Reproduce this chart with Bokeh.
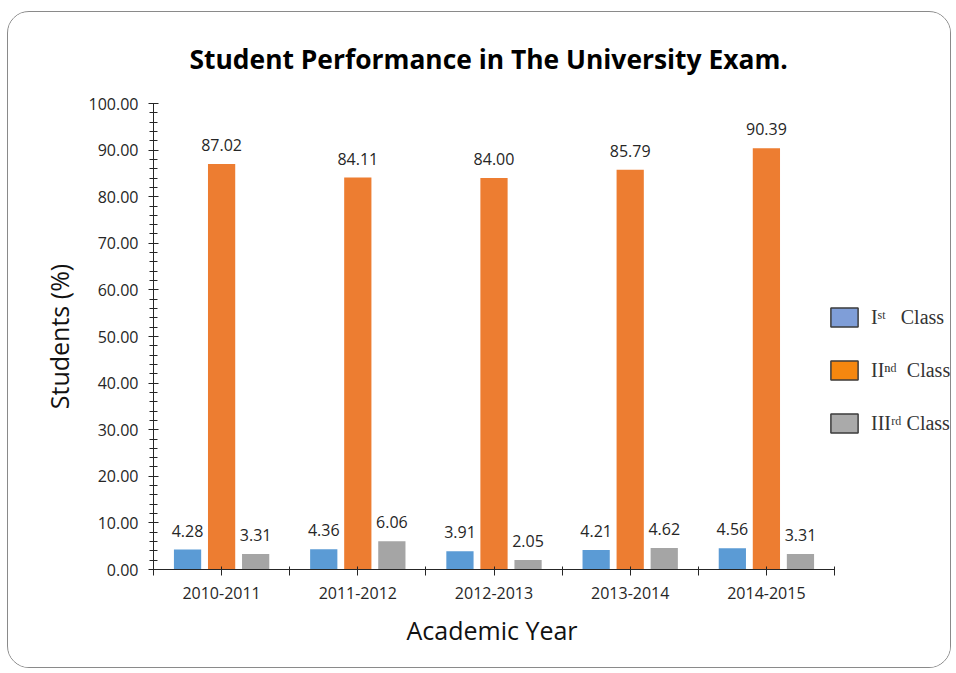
from bokeh.plotting import figure
from bokeh.models import (Range1d, FixedTicker, NumeralTickFormatter, Legend, LegendItem,
                          ColumnDataSource, Title)
from bokeh.transform import dodge
from bokeh.core.properties import value
from bokeh.embed import file_html
from bokeh.resources import INLINE

years = ["2010-2011", "2011-2012", "2012-2013", "2013-2014", "2014-2015"]
first_class = [4.28, 4.36, 3.91, 4.21, 4.56]
second_class = [87.02, 84.11, 84.00, 85.79, 90.39]
third_class = [3.31, 6.06, 2.05, 4.62, 3.31]
NB = "\u00a0"
legend_labels = ["I\u02e2\u1d57" + NB * 3 + "Class",
                 "II\u207f\u1d48" + NB * 2 + "Class",
                 "III\u02b3\u1d48" + NB + "Class"]
y_ticks = list(range(0, 101, 10))
y_minor = list(range(0, 101, 2))

pos = [i + 0.5 for i in range(len(years))]
src = ColumnDataSource(dict(
    x=pos, first=first_class, second=second_class, third=third_class,
    first_t=["%.2f" % v for v in first_class],
    second_t=["%.2f" % v for v in second_class],
    third_t=["%.2f" % v for v in third_class],
))

# layout: frame spans to the right edge so the legend can sit beside the axis
FIG_W, FIG_H = 944, 657
LEFT, TOP, BOTTOM = 145, 91, 100
AXIS_PX = 681                       # pixel length of the category axis
frame_w = FIG_W - LEFT
x_end = len(years) * frame_w / AXIS_PX

p = figure(width=FIG_W, height=FIG_H, output_backend="svg", toolbar_location=None,
           x_range=Range1d(0, x_end), y_range=Range1d(0, 100),
           min_border_left=LEFT, min_border_right=0, min_border_top=TOP,
           min_border_bottom=BOTTOM,
           background_fill_color="white", border_fill_color="white")
p.styles = {"margin-top": "11px", "margin-left": "7px", "border": "1px solid #8a8a8a",
            "border-radius": "22px", "overflow": "hidden"}
p.outline_line_color = None
p.grid.visible = False

p.title.text = "Student Performance in The University Exam."
p.title.text_font = "Open Sans"
p.title.text_font_size = "26.4px"
p.title.text_font_style = "bold"
p.title.text_color = "black"
p.title.align = "left"
p.title.offset = 36
p.title.standoff = 53

colors = ["#5b9bd5", "#ed7d31", "#a5a5a5"]
fields = ["first", "second", "third"]
offsets = [-0.25, 0.0, 0.25]
for f, c, o in zip(fields, colors, offsets):
    p.vbar(x=dodge("x", o), top=f, width=0.2, source=src, fill_color=c, line_color=None)
    p.text(x=dodge("x", o), y=f, text=f + "_t", source=src, text_align="center",
           text_baseline="bottom", y_offset=-13, text_font=value("Open Sans"),
           text_font_size="16px", text_color="#262626")

# axes
xa = p.xaxis[0]
xa.bounds = (0, len(years))
xa.ticker = FixedTicker(ticks=pos, minor_ticks=list(range(len(years) + 1)))
xa.major_label_overrides = {p_: y for p_, y in zip(pos, years)}
xa.major_label_text_font = "Open Sans"
xa.major_label_text_font_size = "16px"
xa.major_label_text_color = "#262626"
xa.major_tick_in = 3
xa.major_tick_out = 6
xa.minor_tick_in = 3
xa.minor_tick_out = 6
xa.axis_line_color = "#262626"
xa.major_tick_line_color = "#262626"
xa.minor_tick_line_color = "#262626"
xa.major_label_standoff = 11

# x axis title, centred under the category axis (not under the wider frame)
x_title = Title(text="Academic Year", align="left", offset=253, standoff=18,
                text_font="Open Sans", text_font_size="25px", text_font_style="normal",
                text_color="#111111")
p.add_layout(x_title, "below")

ya = p.yaxis[0]
ya.ticker = FixedTicker(ticks=y_ticks, minor_ticks=y_minor)
ya.formatter = NumeralTickFormatter(format="0.00")
ya.major_label_text_font = "Open Sans"
ya.major_label_text_font_size = "16px"
ya.major_label_text_color = "#262626"
ya.major_tick_in = 5
ya.major_tick_out = 5
ya.minor_tick_in = 4
ya.minor_tick_out = 4
ya.axis_line_color = "#262626"
ya.major_tick_line_color = "#262626"
ya.minor_tick_line_color = "#262626"
ya.major_label_standoff = 10
ya.axis_label = "Students (%)"
ya.axis_label_text_font = "Open Sans"
ya.axis_label_text_font_size = "25px"
ya.axis_label_text_font_style = "normal"
ya.axis_label_text_color = "#111111"
ya.axis_label_standoff = 10

# legend: swatches styled like the pasted legend of the source figure
leg_colors = ["#7f9ed8", "#f5870f", "#aaaaaa"]
items = []
for lab, c, f, o in zip(legend_labels, leg_colors, fields, offsets):
    r = p.vbar(x=dodge("x", o), top=f, width=0.2, source=src, fill_color=c,
               line_color="#3d3d3d", line_width=1.5, visible=False)
    items.append(LegendItem(label=lab, renderers=[r]))
legend = Legend(items=items, location=(674, 134), orientation="vertical",
                glyph_width=34, glyph_height=24, label_height=24, spacing=29,
                padding=0, margin=0, label_standoff=10,
                label_text_font="Liberation Serif", label_text_font_size="20px",
                label_text_color="#333333", background_fill_alpha=0, border_line_color=None,
                inactive_fill_alpha=0, click_policy="none")
p.add_layout(legend, "center")

open("out.html", "w").write(file_html(p, INLINE))
